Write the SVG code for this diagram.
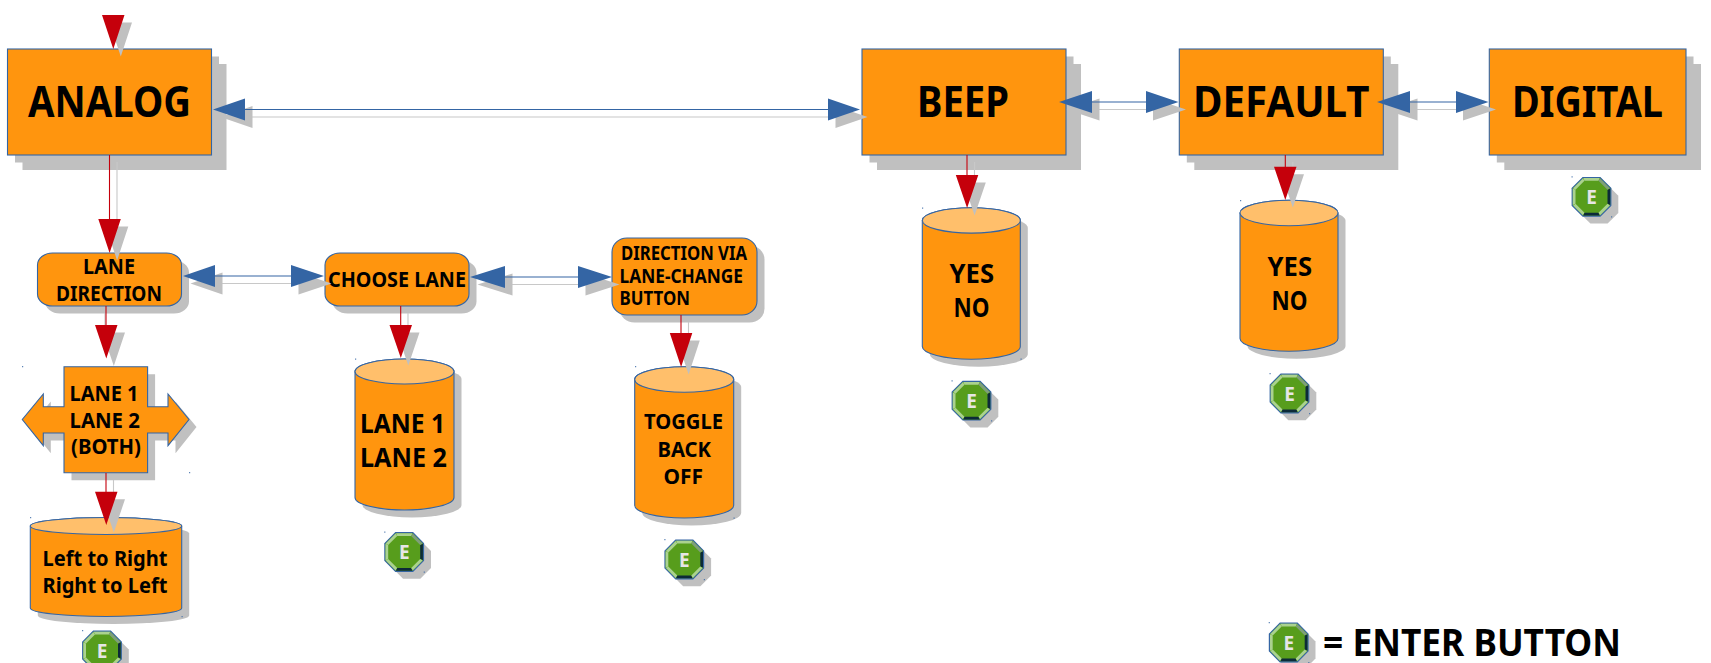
<svg xmlns="http://www.w3.org/2000/svg" width="1711" height="663" viewBox="0 0 1711 663">
<style>
text{font-family:"Noto Sans","DejaVu Sans",sans-serif;font-weight:700;fill:#000;text-anchor:start}
.n{fill:#ff950e;stroke:#3465a4;stroke-width:1.1}
.t{fill:#ffbf6b;stroke:#3465a4;stroke-width:1.1}
.s{fill:#c0c0c0}
.d{fill:#3465a4;opacity:.8}
.rl{stroke:#c5000b;stroke-width:1.1;fill:none}
.bl{stroke:#3465a4;stroke-width:1.1;fill:none}
.sl{stroke:#c8c8c8;stroke-width:1.1;fill:none}
.ra{fill:#c5000b}
.ba{fill:#3465a4}
.big{font-size:43px}
.med{font-size:27.5px}
.sm{font-size:22px}
.xs{font-size:19.5px}
.e{font-size:19px;fill:#e6e6e6;text-anchor:middle}
</style>
<defs>
<g id="btn">
<polygon class="s" transform="translate(7.5 7.5)" points="-8.6,-19.3 8.6,-19.3 19.3,-8.6 19.3,8.6 8.6,19.3 -8.6,19.3 -19.3,8.6 -19.3,-8.6"/>
<polygon fill="#579d1c" stroke="#3465a4" stroke-width="1.2" points="-8.6,-19.3 8.6,-19.3 19.3,-8.6 19.3,8.6 8.6,19.3 -8.6,19.3 -19.3,8.6 -19.3,-8.6"/>
<polygon fill="#abd28f" points="-8.2,-18.7 8.2,-18.7 7,-16 -7,-16"/>
<polygon fill="#abd28f" points="-8.6,-18.4 -7,-16 -16,-7 -18.4,-8.6"/>
<polygon fill="#abd28f" points="-18.7,-8.2 -16,-7 -16,7 -18.7,8.2"/>
<polygon fill="#abd28f" points="-18.4,8.6 -16,7 -7,16 -8.6,18.4"/>
<polygon fill="#0c2a38" points="18.7,-8.2 16,-7 16,7 18.7,8.2"/>
<polygon fill="#0c2a38" points="-8.2,18.7 -7,16 7,16 8.2,18.7"/>
<polygon fill="#abd28f" points="18.4,8.6 16,7 7,16 8.6,18.4"/>
<polygon fill="#7f9f7a" points="8.6,-18.4 7,-16 16,-7 18.4,-8.6"/>
<path class="d" d="M-20,-20.5h1.2v1.2h-1.2zM19.5,19.5h1.2v1.2h-1.2z"/>
</g>
</defs>
<g id="node-analog"><rect class="s" x="15" y="56.5" width="204" height="106"/><rect class="s" x="22.5" y="64" width="204" height="106"/><rect class="n" x="7.5" y="49" width="204" height="106"/><text class="big" x="28" y="117" textLength="163" lengthAdjust="spacingAndGlyphs">ANALOG</text></g>
<g id="node-beep"><rect class="s" x="869.5" y="56.5" width="204" height="106"/><rect class="s" x="877" y="64" width="204" height="106"/><rect class="n" x="862" y="49" width="204" height="106"/><text class="big" x="917" y="117" textLength="92" lengthAdjust="spacingAndGlyphs">BEEP</text></g>
<g id="node-default"><rect class="s" x="1186.8" y="56.5" width="204" height="106"/><rect class="s" x="1194.3" y="64" width="204" height="106"/><rect class="n" x="1179.3" y="49" width="204" height="106"/><text class="big" x="1193" y="117" textLength="176.5" lengthAdjust="spacingAndGlyphs">DEFAULT</text></g>
<g id="node-digital"><rect class="s" x="1496.8" y="56.5" width="196.7" height="106"/><rect class="s" x="1504.3" y="64" width="196.7" height="106"/><rect class="n" x="1489.3" y="49" width="196.7" height="106"/><text class="big" x="1512" y="117" textLength="151" lengthAdjust="spacingAndGlyphs">DIGITAL</text></g>
<g id="node-lane-direction"><rect class="s" x="45" y="260.5" width="144" height="53" rx="15" ry="12"/><rect class="n" x="37.5" y="253" width="144" height="53" rx="15" ry="12"/><text class="sm" x="83" y="274" textLength="52" lengthAdjust="spacingAndGlyphs">LANE</text><text class="sm" x="56" y="301" textLength="106" lengthAdjust="spacingAndGlyphs">DIRECTION</text></g>
<g id="node-choose-lane"><rect class="s" x="332.5" y="260.5" width="144" height="53" rx="15" ry="12"/><rect class="n" x="325" y="253" width="144" height="53" rx="15" ry="12"/><text class="sm" x="328" y="287" textLength="138" lengthAdjust="spacingAndGlyphs">CHOOSE LANE</text></g>
<g id="node-direction-via"><rect class="s" x="619.5" y="245.5" width="145" height="77" rx="15" ry="14"/><rect class="n" x="612" y="238" width="145" height="77" rx="15" ry="14"/><text class="xs" x="621" y="260" textLength="126" lengthAdjust="spacingAndGlyphs">DIRECTION VIA</text><text class="xs" x="619.5" y="282.7" textLength="123.5" lengthAdjust="spacingAndGlyphs">LANE-CHANGE</text><text class="xs" x="619.5" y="304.7" textLength="70.5" lengthAdjust="spacingAndGlyphs">BUTTON</text></g>
<g id="node-lane-cross"><polygon class="s" transform="translate(7.5 7.5)" points="64,366.7 147.6,366.7 147.6,406.7 168,406.7 168,394 189,419.5 168,445.7 168,433 147.6,433 147.6,472.7 64,472.7 64,433 43.3,433 43.3,445.7 22.3,419.5 43.3,394 43.3,406.7 64,406.7"/><polygon class="n" points="64,366.7 147.6,366.7 147.6,406.7 168,406.7 168,394 189,419.5 168,445.7 168,433 147.6,433 147.6,472.7 64,472.7 64,433 43.3,433 43.3,445.7 22.3,419.5 43.3,394 43.3,406.7 64,406.7"/><text class="sm" x="69.5" y="401" textLength="69" lengthAdjust="spacingAndGlyphs">LANE 1</text><text class="sm" x="69.5" y="427.7" textLength="70.5" lengthAdjust="spacingAndGlyphs">LANE 2</text><text class="sm" x="71" y="454" textLength="70" lengthAdjust="spacingAndGlyphs">(BOTH)</text><path class="d" d="M22,366h1.2v1.2h-1.2zM189,472h1.2v1.2h-1.2z"/></g>
<g id="node-direction-store"><path class="s" transform="translate(7.5 7.5)" d="M30.3,526A75.7,8.5 0 0 1 181.7,526V608A75.7,8.5 0 0 1 30.3,608Z"/><path class="n" d="M30.3,526A75.7,8.5 0 0 1 181.7,526V608A75.7,8.5 0 0 1 30.3,608Z"/><ellipse class="t" cx="106" cy="526" rx="75.7" ry="8.5"/><text class="sm" x="42.5" y="566" textLength="125" lengthAdjust="spacingAndGlyphs">Left to Right</text><text class="sm" x="42.5" y="592.7" textLength="125" lengthAdjust="spacingAndGlyphs">Right to Left</text><path class="d" d="M30,517h1.2v1.2h-1.2zM181.5,616h1.2v1.2h-1.2z"/></g>
<g id="node-lane-store"><path class="s" transform="translate(7.5 7.5)" d="M355,371.5A49.5,12.5 0 0 1 454,371.5V497.5A49.5,12.5 0 0 1 355,497.5Z"/><path class="n" d="M355,371.5A49.5,12.5 0 0 1 454,371.5V497.5A49.5,12.5 0 0 1 355,497.5Z"/><ellipse class="t" cx="404.5" cy="371.5" rx="49.5" ry="12.5"/><text class="med" x="360" y="433.3" textLength="85" lengthAdjust="spacingAndGlyphs">LANE 1</text><text class="med" x="360" y="467.3" textLength="87" lengthAdjust="spacingAndGlyphs">LANE 2</text><path class="d" d="M355,358.5h1.2v1.2h-1.2z"/></g>
<g id="node-toggle-store"><path class="s" transform="translate(7.5 7.5)" d="M634.7,379.5A49.5,12.7 0 0 1 733.7,379.5V505.3A49.5,12.7 0 0 1 634.7,505.3Z"/><path class="n" d="M634.7,379.5A49.5,12.7 0 0 1 733.7,379.5V505.3A49.5,12.7 0 0 1 634.7,505.3Z"/><ellipse class="t" cx="684.2" cy="379.5" rx="49.5" ry="12.7"/><text class="sm" x="644" y="429.3" textLength="79" lengthAdjust="spacingAndGlyphs">TOGGLE</text><text class="sm" x="657.5" y="456.7" textLength="53.5" lengthAdjust="spacingAndGlyphs">BACK</text><text class="sm" x="663.5" y="484" textLength="39.5" lengthAdjust="spacingAndGlyphs">OFF</text><path class="d" d="M635,366h1.2v1.2h-1.2zM733.5,517.5h1.2v1.2h-1.2z"/></g>
<g id="node-beep-store"><path class="s" transform="translate(7.5 7.5)" d="M922.3,220.4A49,12.7 0 0 1 1020.3,220.4V346.6A49,12.7 0 0 1 922.3,346.6Z"/><path class="n" d="M922.3,220.4A49,12.7 0 0 1 1020.3,220.4V346.6A49,12.7 0 0 1 922.3,346.6Z"/><ellipse class="t" cx="971.3" cy="220.4" rx="49" ry="12.7"/><text class="med" x="949.5" y="282.7" textLength="44.5" lengthAdjust="spacingAndGlyphs">YES</text><text class="med" x="953.5" y="316.7" textLength="36" lengthAdjust="spacingAndGlyphs">NO</text><path class="d" d="M922,207.5h1.2v1.2h-1.2zM1020.5,358.5h1.2v1.2h-1.2z"/></g>
<g id="node-default-store"><path class="s" transform="translate(7.5 7.5)" d="M1240,213A49,12.7 0 0 1 1338,213V338.5A49,12.7 0 0 1 1240,338.5Z"/><path class="n" d="M1240,213A49,12.7 0 0 1 1338,213V338.5A49,12.7 0 0 1 1240,338.5Z"/><ellipse class="t" cx="1289" cy="213" rx="49" ry="12.7"/><text class="med" x="1267.5" y="275.7" textLength="44.5" lengthAdjust="spacingAndGlyphs">YES</text><text class="med" x="1271.5" y="309.7" textLength="36" lengthAdjust="spacingAndGlyphs">NO</text><path class="d" d="M1240,200h1.2v1.2h-1.2z"/></g>
<g id="node-e1"><use href="#btn" x="1591.5" y="196.8"/><text class="e" x="1591.5" y="203.8">E</text></g>
<g id="node-e2"><use href="#btn" x="971.5" y="400.7"/><text class="e" x="971.5" y="407.7">E</text></g>
<g id="node-e3"><use href="#btn" x="1289.5" y="393.5"/><text class="e" x="1289.5" y="400.5">E</text></g>
<g id="node-e4"><use href="#btn" x="404.2" y="552"/><text class="e" x="404.2" y="559">E</text></g>
<g id="node-e5"><use href="#btn" x="684.3" y="559.5"/><text class="e" x="684.3" y="566.5">E</text></g>
<g id="node-e6"><use href="#btn" x="102" y="650.5"/><text class="e" x="102" y="657.5">E</text></g>
<g id="node-legend"><use href="#btn" x="1288.7" y="642.5"/><text class="e" x="1288.7" y="649.5">E</text><text x="1323" y="655.7" font-size="37" textLength="298" lengthAdjust="spacingAndGlyphs">= ENTER BUTTON</text></g>
<g id="connectors">
<path class="sl" d="M117,162V226M113.5,480V499M408,313V333M688.5,322V339M974.5,162V182M1292.8,162V174M105,313V333"/>
<path class="sl" d="M245,117H830M215,283.5H291M505,284.5H578M1092,109.5H1146M1410,109.5H1456"/>
<path class="s" d="M109.5,22.5h22.5l-11.2,34zM105.8,226.5h22.5l-11.2,34zM102.5,332.5h22.5l-11.2,33.5zM102.5,499.2h22.5l-11.2,33.3zM397,332.5h22.5l-11.2,33zM677.3,340.5h22.5l-11.2,34zM963.3,182.5h22.5l-11.2,33zM1281.5,174.2h22.5l-11.2,33.3z"/>
<path class="s" d="M220.5,117L252.5,106V128ZM867.5,117L835.5,106V128ZM190.5,283.5L222.5,272.5V294.5ZM331.5,283.5L298.5,272.5V294.5ZM477.5,284.5L512.5,273.5V295.5ZM619.5,284.5L585.5,273.5V295.5ZM1066.5,109.5L1099.5,98.5V120.5ZM1186,109.5L1153,98.5V120.5ZM1384.5,109.5L1417.5,98.5V120.5ZM1496,109.5L1463,98.5V120.5Z"/>
<path class="rl" d="M109.5,155V220M106,306V326M400.7,306V326M681,315V333M967,155V176M1285.3,155V167M106,473V492"/>
<path class="bl" d="M245,109.5H830M215,276H291M505,277H578M1092,102H1146M1410,102H1456"/>
<path class="ra" d="M102,15h22.5l-11.2,34zM98.3,219h22.5l-11.2,34zM95,325h22.5l-11.2,33.5zM95,491.7h22.5l-11.2,33.3zM389.5,325h22.5l-11.2,33zM669.8,333h22.5l-11.2,34zM955.8,175h22.5l-11.2,33zM1274,166.7h22.5l-11.2,33.3z"/>
<path class="ba" d="M213,109.5L245,98.5V120.5ZM860,109.5L828,98.5V120.5ZM183,276L215,265V287ZM324,276L291,265V287ZM470,277L505,266V288ZM612,277L578,266V288ZM1059,102L1092,91V113ZM1178.5,102L1146,91V113ZM1377,102L1410,91V113ZM1488.5,102L1456,91V113Z"/>
</g>
</svg>
